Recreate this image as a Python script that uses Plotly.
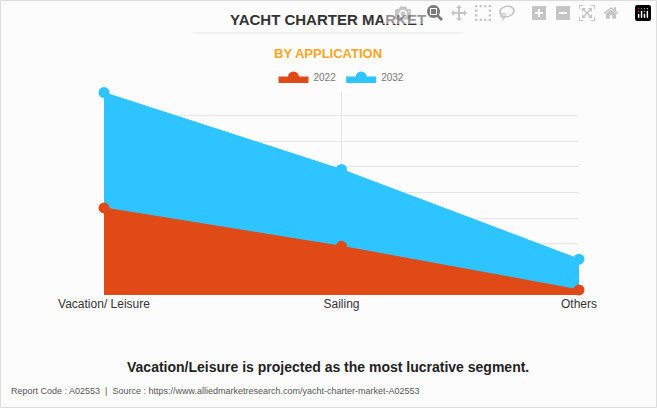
import plotly.graph_objects as go

categories = ['Vacation/ Leisure', 'Sailing', 'Others']
values_2022 = [3.4, 1.9, 0.2]
values_2032 = [7.9, 4.9, 1.4]

W, H = 657, 408
L, R, T, B = 104, 78, 90, 113
pw, ph = W - L - R, H - T - B

fig = go.Figure()
# 2032 drawn first so the 2022 area sits on top of it
fig.add_trace(go.Scatter(x=categories, y=values_2032, name='2032', fill='tozeroy',
                         mode='lines+markers', line=dict(color='#2ec4ff', width=1),
                         fillcolor='#2ec4ff', marker=dict(size=11, color='#2ec4ff'),
                         legendrank=2, cliponaxis=False))
fig.add_trace(go.Scatter(x=categories, y=values_2022, name='2022', fill='tozeroy',
                         mode='lines+markers', line=dict(color='#e04a16', width=1),
                         fillcolor='#e04a16', marker=dict(size=11, color='#e04a16'),
                         legendrank=1, cliponaxis=False))


def px_x(p):
    return (p - L) / pw


def px_y(p):
    return 1 - (p - T) / ph


def label(text, x, y, size, color, xanchor='center'):
    return dict(text=text, xref='paper', yref='paper', x=px_x(x), y=px_y(y),
                xanchor=xanchor, yanchor='middle', showarrow=False,
                font=dict(size=size, color=color))


fig.update_layout(
    width=W, height=H,
    margin=dict(l=L, r=R, t=T, b=B),
    paper_bgcolor='#fdfcfc', plot_bgcolor='#fdfcfc',
    font=dict(family='Arial, Liberation Sans', color='#444'),
    showlegend=True,
    legend=dict(orientation='h', x=0.5, xanchor='center', y=px_y(77), yanchor='middle',
                font=dict(size=10, color='#777'), itemwidth=30),
    xaxis=dict(showgrid=True, gridcolor='#e6e6e6', showline=False, zeroline=False,
               tickfont=dict(size=12, color='#333'), range=[0, 2]),
    yaxis=dict(range=[0, 8], dtick=1, showgrid=True, gridcolor='#e6e6e6',
               showticklabels=False, zeroline=False),
    shapes=[
        dict(type='rect', xref='paper', yref='paper', x0=px_x(0.5), x1=px_x(656.5),
             y0=px_y(407.5), y1=px_y(0.5), line=dict(color='#dddddd', width=1)),
        dict(type='line', xref='paper', yref='paper', x0=px_x(193), x1=px_x(463),
             y0=px_y(33), y1=px_y(33), line=dict(color='#e8e8e8', width=1)),
    ],
    annotations=[
        label('<b>YACHT CHARTER MARKET</b>', 328, 19, 15, '#333'),
        label('<b>BY APPLICATION</b>', 328, 53, 13, '#f5a623'),
        label('<b>Vacation/Leisure is projected as the most lucrative segment.</b>',
              328, 367, 14, '#222'),
        label('Report Code : A02553  |  Source : https://www.alliedmarketresearch.com/yacht-charter-market-A02553',
              9, 391, 9, '#555', xanchor='left'),
    ],
)

fig.write_html('out.html')

# drop the browser's default body margin so the figure sits at the page corner
with open('out.html', encoding='utf-8') as f:
    html = f.read()
html = html.replace('<head>', '<head><style>body{margin:0;}</style>', 1)
with open('out.html', 'w', encoding='utf-8') as f:
    f.write(html)
